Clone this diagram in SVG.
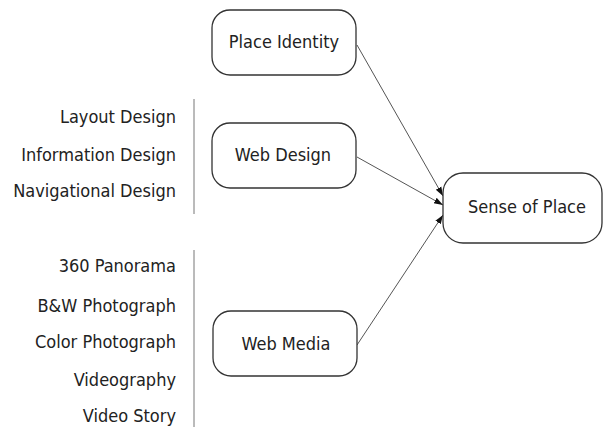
<svg xmlns="http://www.w3.org/2000/svg" width="604" height="428" viewBox="0 0 604 428">
<style>
.box{fill:#fff;stroke:#333;stroke-width:1.3}
.t{font-family:"DejaVu Sans Condensed","DejaVu Sans",sans-serif;font-size:18px;fill:#222}
.c{text-anchor:middle}
.r{text-anchor:end}
.edge{stroke:#555;stroke-width:1;fill:none}
.sep{stroke:#777;stroke-width:1}
</style>
<defs>
<marker id="ah" viewBox="0 0 10 10" refX="10" refY="5" markerWidth="9" markerHeight="9" markerUnits="userSpaceOnUse" orient="auto">
<path d="M0,1.5 L10,5 L0,8.5 z" fill="#111"/>
</marker>
</defs>
<g id="connectors">
<line class="edge" x1="357" y1="45" x2="443" y2="196" marker-end="url(#ah)"/>
<line class="edge" x1="357" y1="157" x2="443" y2="205" marker-end="url(#ah)"/>
<line class="edge" x1="357" y1="345" x2="443" y2="215" marker-end="url(#ah)"/>
</g>
<g id="place-identity">
<rect class="box" x="212" y="10" width="144" height="65" rx="18"/>
<text class="t c" x="284" y="48">Place Identity</text>
</g>
<g id="web-design">
<rect class="box" x="212" y="123" width="144" height="65" rx="18"/>
<text class="t c" x="283" y="161">Web Design</text>
</g>
<g id="web-media">
<rect class="box" x="213" y="311" width="144" height="65" rx="18"/>
<text class="t c" x="286" y="350">Web Media</text>
</g>
<g id="sense-of-place">
<rect class="box" x="443" y="173" width="159" height="70" rx="20"/>
<text class="t c" x="527" y="213">Sense of Place</text>
</g>
<g id="web-design-items">
<line class="sep" x1="194" y1="99" x2="194" y2="214"/>
<text class="t r" x="176" y="123">Layout Design</text>
<text class="t r" x="176" y="161">Information Design</text>
<text class="t r" x="176" y="197">Navigational Design</text>
</g>
<g id="web-media-items">
<line class="sep" x1="194" y1="250" x2="194" y2="427"/>
<text class="t r" x="176" y="272">360 Panorama</text>
<text class="t r" x="176" y="312">B&amp;W Photograph</text>
<text class="t r" x="176" y="348">Color Photograph</text>
<text class="t r" x="176" y="386">Videography</text>
<text class="t r" x="176" y="422">Video Story</text>
</g>
</svg>
